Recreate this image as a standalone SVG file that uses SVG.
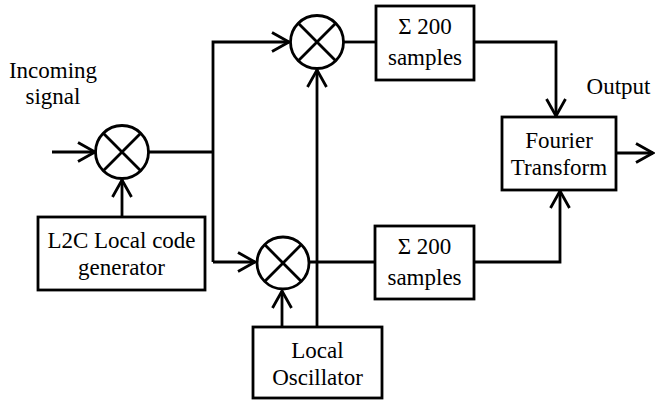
<svg xmlns="http://www.w3.org/2000/svg" width="658" height="403" viewBox="0 0 658 403">
<defs>
<marker id="arr" markerUnits="userSpaceOnUse" viewBox="-20 -12 22 24" refX="0" refY="0" markerWidth="22" markerHeight="24" orient="auto">
<path d="M-17,-9.5 L0,0 L-17,9.5" fill="none" stroke="#000" stroke-width="2.8"/>
</marker>
<style>
.ln{fill:none;stroke:#000;stroke-width:2.8}
.bx{fill:#fff;stroke:#000;stroke-width:2.8}
.t{font-size:23px;fill:#000;text-anchor:middle}
</style>
</defs>
<rect width="658" height="403" fill="#fff"/>
<g id="connectors">
<path class="ln" d="M52,152 L95,152" marker-end="url(#arr)"/>
<path class="ln" d="M122,217 L122,180" marker-end="url(#arr)"/>
<path class="ln" d="M149,152 L213,152"/>
<path class="ln" d="M213,262 L213,42 L289,42" marker-end="url(#arr)"/>
<path class="ln" d="M213,262 L255,262" marker-end="url(#arr)"/>
<path class="ln" d="M317,327 L317,70" marker-end="url(#arr)"/>
<path class="ln" d="M282,327 L282,291" marker-end="url(#arr)"/>
<path class="ln" d="M344,42 L376,42"/>
<path class="ln" d="M309,262 L375,262"/>
<path class="ln" d="M474,42 L556,42 L556,116" marker-end="url(#arr)"/>
<path class="ln" d="M474,262 L560,262 L560,191" marker-end="url(#arr)"/>
<path class="ln" d="M616,153 L653,153" marker-end="url(#arr)"/>
</g>
<g id="mixer1">
<circle class="ln" cx="122" cy="152" r="26.5"/>
<path class="ln" d="M103.3,133.3 L140.7,170.7 M140.7,133.3 L103.3,170.7"/>
</g>
<g id="mixer-top">
<circle class="ln" cx="317" cy="42" r="26.5"/>
<path class="ln" d="M298.3,23.3 L335.7,60.7 M335.7,23.3 L298.3,60.7"/>
</g>
<g id="mixer-bottom">
<circle class="ln" cx="283" cy="263" r="26"/>
<path class="ln" d="M264.6,244.6 L301.4,281.4 M301.4,244.6 L264.6,281.4"/>
</g>
<g id="labels" font-family="Liberation Serif, Times New Roman, DejaVu Serif, serif">
<g id="incoming-label">
<text class="t" x="53" y="78">Incoming</text>
<text class="t" x="53" y="104">signal</text>
</g>
<g id="output-label">
<text class="t" x="618.5" y="94">Output</text>
</g>
</g>
<g id="l2c" font-family="Liberation Serif, Times New Roman, DejaVu Serif, serif">
<rect class="bx" x="38" y="217" width="167" height="73"/>
<text class="t" x="121.5" y="248">L2C Local code</text>
<text class="t" x="121.5" y="275">generator</text>
</g>
<g id="oscillator" font-family="Liberation Serif, Times New Roman, DejaVu Serif, serif">
<rect class="bx" x="253" y="327" width="129" height="71"/>
<text class="t" x="317.5" y="358">Local</text>
<text class="t" x="317.5" y="385">Oscillator</text>
</g>
<g id="sum-top" font-family="Liberation Serif, Times New Roman, DejaVu Serif, serif">
<rect class="bx" x="376" y="6" width="98" height="74"/>
<text class="t" x="425" y="34">Σ 200</text>
<text class="t" x="425" y="65">samples</text>
</g>
<g id="sum-bottom" font-family="Liberation Serif, Times New Roman, DejaVu Serif, serif">
<rect class="bx" x="375" y="226" width="99" height="73"/>
<text class="t" x="424.5" y="254">Σ 200</text>
<text class="t" x="424.5" y="285">samples</text>
</g>
<g id="fourier" font-family="Liberation Serif, Times New Roman, DejaVu Serif, serif">
<rect class="bx" x="502" y="117" width="114" height="73"/>
<text class="t" x="559" y="148">Fourier</text>
<text class="t" x="559" y="175">Transform</text>
</g>
</svg>
